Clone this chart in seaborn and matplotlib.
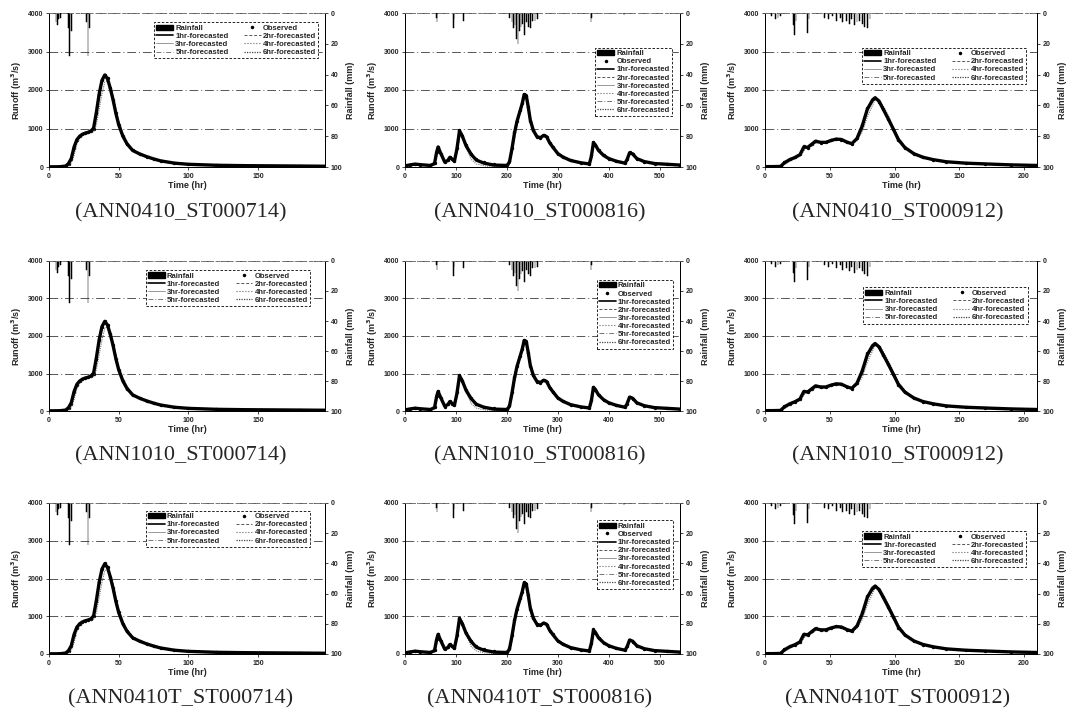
import matplotlib
matplotlib.use("Agg")
import matplotlib.pyplot as plt
import seaborn as sns
import pandas as pd
from matplotlib.lines import Line2D
from matplotlib.patches import Patch

# ---------------- data ----------------
models = ["ANN0410", "ANN1010", "ANN0410T"]
storms = ["ST000714", "ST000816", "ST000912"]

t714 = [0, 4, 8, 12, 14, 16, 18, 20, 22, 24, 26, 28, 30, 32, 34, 36, 38, 40, 42, 44, 46, 48, 50,
        53, 56, 60, 65, 70, 75, 80, 90, 100, 120, 140, 160, 180, 198]
obs714 = [5, 5, 8, 20, 80, 200, 500, 700, 800, 850, 880, 900, 930, 1000, 1400, 1900, 2250, 2400,
          2300, 2050, 1750, 1400, 1100, 800, 600, 430, 340, 270, 210, 160, 100, 70, 45, 35, 30, 25, 20]
f1_714 = [5, 5, 8, 25, 90, 220, 520, 710, 800, 850, 880, 900, 930, 1010, 1420, 1900, 2250, 2390,
          2290, 2040, 1740, 1390, 1100, 800, 600, 430, 340, 270, 210, 160, 100, 70, 45, 35, 30, 25, 20]
f6_714 = [5, 5, 5, 10, 30, 100, 300, 600, 750, 820, 860, 880, 900, 920, 1100, 1500, 1900, 2200,
          2250, 2100, 1850, 1500, 1200, 880, 650, 460, 350, 280, 215, 165, 105, 72, 46, 36, 30, 25, 20]
rain714_t = [5, 6, 7, 8, 14, 15, 16, 27, 28, 29]
rain714_mm = [6, 8, 4, 3, 10, 28, 12, 6, 28, 10]

t816 = [0, 10, 20, 30, 50, 58, 62, 65, 70, 78, 84, 88, 92, 97, 102, 107, 112, 120, 130, 140, 155,
        175, 200, 205, 210, 215, 220, 226, 230, 234, 238, 242, 246, 252, 259, 266, 272, 278, 284,
        290, 300, 310, 325, 345, 362, 366, 370, 374, 380, 390, 400, 415, 432, 436, 441, 447, 455,
        470, 490, 515, 540]
obs816 = [30, 60, 80, 60, 40, 100, 400, 530, 350, 120, 180, 260, 200, 150, 500, 960, 800, 560, 350,
          200, 120, 70, 50, 150, 500, 900, 1200, 1480, 1650, 1900, 1850, 1550, 1200, 950, 780, 760,
          830, 780, 620, 520, 350, 260, 170, 110, 80, 300, 650, 560, 430, 300, 220, 150, 100, 200,
          380, 330, 220, 140, 90, 70, 50]
f1_816 = [30, 55, 75, 60, 40, 90, 380, 520, 360, 130, 170, 250, 210, 150, 470, 940, 820, 550, 330,
          180, 100, 50, 40, 120, 470, 880, 1190, 1460, 1640, 1880, 1860, 1560, 1220, 950, 790, 760,
          820, 790, 630, 520, 350, 260, 170, 110, 80, 280, 630, 570, 430, 300, 220, 150, 100, 190,
          370, 340, 220, 140, 90, 70, 50]
f6_816 = [30, 50, 70, 60, 40, 60, 250, 450, 420, 150, 140, 220, 230, 160, 350, 800, 880, 500, 200,
          80, 30, 10, 20, 60, 350, 750, 1100, 1400, 1600, 1750, 1800, 1650, 1300, 1000, 800, 740,
          800, 800, 650, 540, 360, 260, 170, 110, 80, 150, 500, 620, 460, 310, 225, 150, 100, 140,
          320, 360, 230, 145, 92, 70, 50]
rain816_t = [62, 63, 95, 96, 115, 205, 210, 213, 216, 219, 222, 225, 228, 231, 234, 238, 242, 246,
             250, 255, 260, 365, 366, 430]
rain816_mm = [3, 6, 10, 4, 5, 3, 6, 10, 8, 17, 20, 12, 9, 7, 14, 6, 9, 10, 5, 5, 4, 6, 3, 1]

t912 = [0, 6, 12, 15, 19, 23, 27, 30, 33, 36, 39, 43, 47, 51, 55, 59, 63, 67, 71, 75, 79, 83, 85,
        88, 91, 95, 99, 103, 108, 115, 122, 130, 140, 155, 170, 190, 210]
obs912 = [10, 10, 20, 130, 200, 250, 330, 540, 500, 600, 680, 630, 640, 700, 730, 710, 640, 600,
          760, 1100, 1540, 1760, 1800, 1700, 1500, 1250, 980, 700, 500, 340, 250, 190, 135, 100, 80,
          55, 40]
f1_912 = [10, 10, 15, 110, 190, 245, 320, 520, 510, 590, 670, 640, 640, 690, 725, 715, 650, 605,
          740, 1060, 1500, 1740, 1800, 1710, 1520, 1260, 990, 710, 505, 345, 252, 190, 136, 100, 80,
          55, 40]
f6_912 = [10, 10, 10, 60, 150, 220, 280, 420, 520, 540, 620, 650, 620, 660, 720, 720, 660, 610,
          680, 900, 1300, 1600, 1750, 1760, 1600, 1350, 1050, 780, 540, 360, 260, 195, 138, 100, 80,
          55, 40]
rain912_t = [5, 8, 10, 12, 22, 23, 24, 33, 34, 46, 49, 52, 55, 58, 60, 63, 65, 67, 69, 71, 73, 75,
             77, 79, 81]
rain912_mm = [2, 4, 3, 2, 8, 14, 5, 13, 4, 3, 4, 2, 5, 3, 6, 5, 7, 4, 8, 6, 5, 7, 9, 10, 4]

x_limits = [198, 540, 210]
x_ticks = [[0, 50, 100, 150], [0, 100, 200, 300, 400, 500], [0, 50, 100, 150, 200]]
runoff_ticks = [0, 1000, 2000, 3000, 4000]
rain_ticks = [0, 20, 40, 60, 80, 100]
lead_labels = ["1hr-forecasted", "2hr-forecasted", "3hr-forecasted",
               "4hr-forecasted", "5hr-forecasted", "6hr-forecasted"]

storm_data = {
    "ST000714": (t714, obs714, f1_714, f6_714, rain714_t, rain714_mm),
    "ST000816": (t816, obs816, f1_816, f6_816, rain816_t, rain816_mm),
    "ST000912": (t912, obs912, f1_912, f6_912, rain912_t, rain912_mm),
}

# ---------------- style ----------------
sns.set_style("ticks")
plt.rcParams['font.family'] = ['Liberation Sans', 'DejaVu Sans']
plt.rcParams['font.weight'] = 'bold'
plt.rcParams['axes.labelweight'] = 'bold'

W, H = 1074, 727
fig = plt.figure(figsize=(W / 100, H / 100), dpi=100)

col_px = [(49, 276), (405, 275), (765, 272)]
row_px = [(13, 167), (261, 411), (503, 654)]
caption_y = [213, 456, 699]
caption_x = [181, 540, 898]

legend_anchor = [
    [(0.99, 0.965), (0.985, 0.80), (0.975, 0.80)],
    [(0.96, 0.965), (0.99, 0.90), (0.98, 0.85)],
    [(0.96, 0.975), (0.99, 0.91), (0.975, 0.84)],
]

grey_styles = [
    dict(color='#555555', ls=(0, (3, 2)), lw=0.7),
    dict(color='#888888', ls='-', lw=0.6),
    dict(color='#666666', ls=':', lw=0.8),
    dict(color='#777777', ls=(0, (5, 2, 1, 2)), lw=0.7),
    dict(color='#444444', ls=(0, (1, 1)), lw=0.9),
]

for r, model in enumerate(models):
    for c, storm in enumerate(storms):
        t, obs, f1, f6, rt, rmm = storm_data[storm]
        lx, w = col_px[c]
        top, bot = row_px[r]
        ax = fig.add_axes([lx / W, 1 - bot / H, w / W, (bot - top) / H])
        ax2 = ax.twinx()

        df = pd.DataFrame({"t": t, "obs": obs, "f1": f1, "f6": f6})
        sns.lineplot(data=df, x="t", y="f6", ax=ax, color='#777777', lw=0.8,
                     linestyle=(0, (1, 1)), legend=False)
        sns.lineplot(data=df, x="t", y="f1", ax=ax, color='black', lw=2.4, legend=False)
        sns.scatterplot(data=df, x="t", y="obs", ax=ax, color='black', s=6,
                        marker='o', linewidth=0, legend=False)

        ax.set_xlim(0, x_limits[c])
        ax.set_ylim(0, 4000)
        ax.set_xticks(x_ticks[c])
        ax.set_yticks(runoff_ticks)
        ax.yaxis.grid(True, linestyle=(0, (9, 3, 1, 3)), color='#555555', lw=0.7)
        ax.set_axisbelow(True)
        ax.set_xlabel("Time (hr)", fontsize=6.5, labelpad=1)
        ax.set_ylabel("Runoff (m$^3$/s)", fontsize=6.5, labelpad=3)
        ax.tick_params(labelsize=5, length=2, width=0.6, pad=2)

        ax2.bar(rt, rmm, width=0.6 if c != 1 else 1.4, color='black',
                edgecolor='black', linewidth=0.35, align='center')
        ax2.set_ylim(100, 0)
        ax2.set_yticks(rain_ticks)
        ax2.set_ylabel("Rainfall (mm)", fontsize=6.5, labelpad=3, rotation=90)
        ax2.tick_params(labelsize=5, length=2, width=0.6, pad=2)

        for a in (ax, ax2):
            for s in ("left", "right", "bottom"):
                a.spines[s].set_linewidth(0.7)
                a.spines[s].set_color('black')
            a.spines['top'].set_linestyle((0, (4, 4)))
            a.spines['top'].set_linewidth(0.6)
            a.spines['top'].set_color('#777777')

        h_rain = Patch(facecolor='black', edgecolor='black')
        h_obs = Line2D([], [], ls='none', marker='.', color='black', markersize=3)
        h_leads = [Line2D([], [], color='black', lw=1.2)] + [Line2D([], [], **g) for g in grey_styles]
        if c == 1:
            handles = [h_rain, h_obs] + h_leads
            labels = ["Rainfall", "Observed"] + lead_labels
            ncol = 1
        else:
            handles = [h_rain, h_leads[0], h_leads[2], h_leads[4],
                       h_obs, h_leads[1], h_leads[3], h_leads[5]]
            labels = ["Rainfall", lead_labels[0], lead_labels[2], lead_labels[4],
                      "Observed", lead_labels[1], lead_labels[3], lead_labels[5]]
            ncol = 2
        leg = ax2.legend(handles, labels, loc='upper right', bbox_to_anchor=legend_anchor[r][c],
                         ncol=ncol, fontsize=5.5, labelspacing=0.1, handlelength=2.2,
                         handletextpad=0.3, columnspacing=2.0, borderpad=0.3,
                         frameon=True, fancybox=False, framealpha=1)
        leg.get_frame().set_edgecolor('black')
        leg.get_frame().set_linewidth(0.6)
        leg.get_frame().set_linestyle((0, (3, 2)))

        fig.text(caption_x[c] / W, 1 - caption_y[r] / H, f"({model}_{storm})",
                 ha='center', va='center', fontsize=16, fontweight='normal',
                 family=['Liberation Serif', 'DejaVu Serif'])

fig.savefig("out.png", dpi=100)
